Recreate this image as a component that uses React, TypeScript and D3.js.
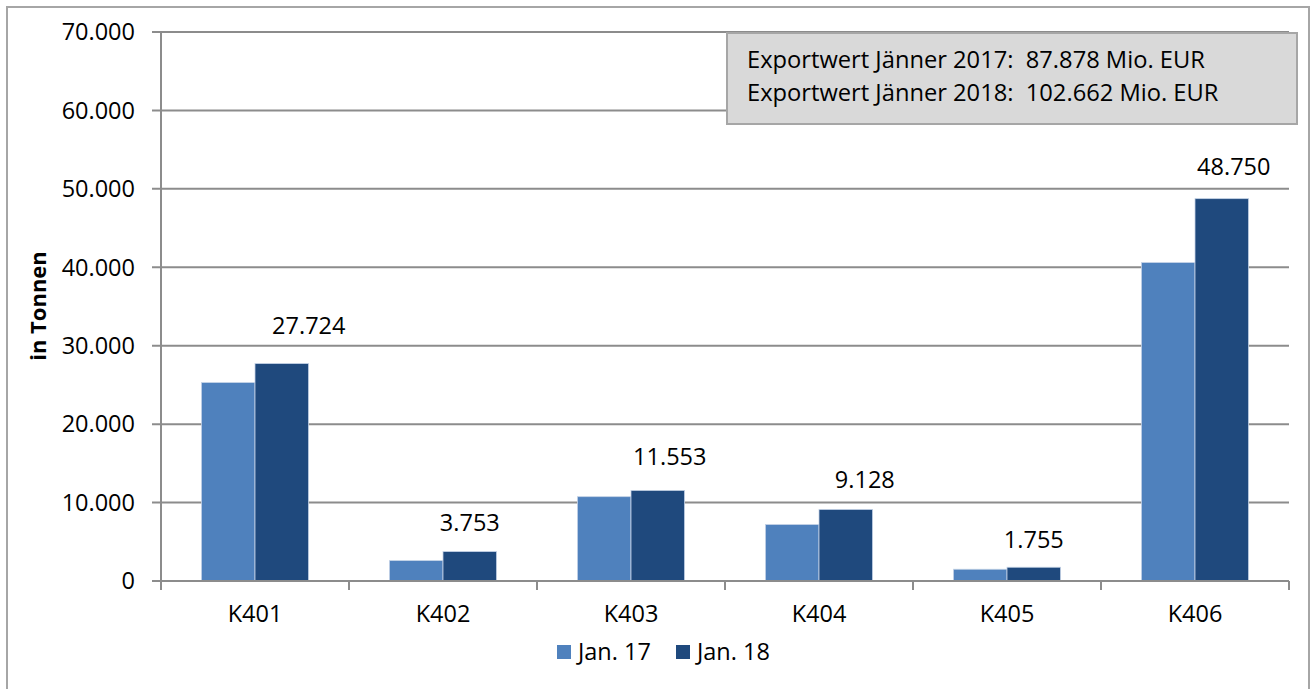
import React from "react";
import * as d3 from "d3";

const categories = ["K401", "K402", "K403", "K404", "K405", "K406"];
const seriesNames = ["Jan. 17", "Jan. 18"];
const jan17 = [25300, 2600, 10750, 7200, 1500, 40600];
const jan18 = [27724, 3753, 11553, 9128, 1755, 48750];
const yTicks = [0, 10000, 20000, 30000, 40000, 50000, 60000, 70000];
const annotationLines = [
  "Exportwert Jänner 2017:  87.878 Mio. EUR",
  "Exportwert Jänner 2018:  102.662 Mio. EUR",
];
// manual label nudges (px) as placed in the original chart
const labelDx = [27, 0, 12, 19, 0, 12];
const labelDy = [-30, -21, -25, -21, -19, -24];

const colors = ["#4F81BD", "#1F497D"];
const W = 1316;
const H = 689;
const font = "'Open Sans', 'DejaVu Sans', sans-serif";
const fmt = (v: number) =>
  v === 0 ? "0" : d3.format(",")(v).replace(/,/g, ".");

export default function App() {
  const left = 161;
  const right = 1289;
  const top = 32;
  const bottom = 581;

  const x0 = d3.scaleBand<string>().domain(categories).range([left, right]).padding(0);
  const bw = x0.bandwidth();
  const x1 = d3
    .scaleBand<string>()
    .domain(seriesNames)
    .range([bw * 0.215, bw * 0.785])
    .padding(0);
  const y = d3.scaleLinear().domain([0, 70000]).range([bottom, top]);
  const series = [jan17, jan18];
  const grid = "#8c8c8c";

  return (
    <svg
      width={W}
      height={H}
      style={{ position: "absolute", left: 0, top: 0, background: "#fff" }}
      fontFamily={font}
    >
      <rect x={7} y={7} width={1302} height={H + 10} fill="#fff" stroke="#a6a6a6" strokeWidth={2} />
      {/* gridlines */}
      {yTicks.map((t) => (
        <g key={t}>
          <line x1={152} x2={right} y1={y(t)} y2={y(t)} stroke={grid} strokeWidth={2} />
          <text x={135} y={y(t)} dy="0.35em" textAnchor="end" fontSize={23.5} fill="#000">
            {fmt(t)}
          </text>
        </g>
      ))}
      {/* y axis */}
      <line x1={left} x2={left} y1={top} y2={bottom} stroke={grid} strokeWidth={2} />
      {/* x ticks */}
      {[...categories.map((c) => x0(c) as number), right].map((xv, i) => (
        <line key={i} x1={xv} x2={xv} y1={bottom} y2={bottom + 9} stroke={grid} strokeWidth={2} />
      ))}
      {/* bars */}
      {categories.map((c, i) => (
        <g key={c} transform={`translate(${x0(c)},0)`}>
          {series.map((s, j) => (
            <rect
              key={j}
              x={x1(seriesNames[j])}
              y={y(s[i])}
              width={x1.bandwidth()}
              height={bottom - y(s[i])}
              fill={colors[j]}
              stroke="#c5d3e6"
              strokeWidth={0.8}
            />
          ))}
          <text
            x={(x1(seriesNames[1]) as number) + x1.bandwidth() / 2 + labelDx[i]}
            y={y(jan18[i]) + labelDy[i]}
            textAnchor="middle"
            fontSize={23.5}
            fill="#000"
          >
            {fmt(jan18[i])}
          </text>
          <text x={bw / 2} y={622} textAnchor="middle" fontSize={23.5} fill="#000">
            {c}
          </text>
        </g>
      ))}
      {/* baseline */}
      <line x1={152} x2={right} y1={bottom} y2={bottom} stroke={grid} strokeWidth={2} />
      {/* annotation box */}
      <rect x={727} y={33} width={570} height={91} fill="#d9d9d9" stroke="#a6a6a6" strokeWidth={2} />
      {annotationLines.map((l, i) => (
        <text key={i} x={747} y={68 + i * 33} fontSize={23.7} fill="#000" style={{ whiteSpace: "pre" }}>
          {l}
        </text>
      ))}
      {/* legend */}
      {seriesNames.map((n, i) => {
        const lx = 557 + i * 119;
        return (
          <g key={n}>
            <rect x={lx} y={645} width={14} height={14} fill={colors[i]} />
            <text x={lx + 21} y={652} dy="0.35em" fontSize={23.5} fill="#000">
              {n}
            </text>
          </g>
        );
      })}
      {/* y title */}
      <text
        transform={`translate(46,306) rotate(-90)`}
        textAnchor="middle"
        fontSize={22}
        fontWeight="bold"
        fill="#000"
      >
        in Tonnen
      </text>
    </svg>
  );
}
